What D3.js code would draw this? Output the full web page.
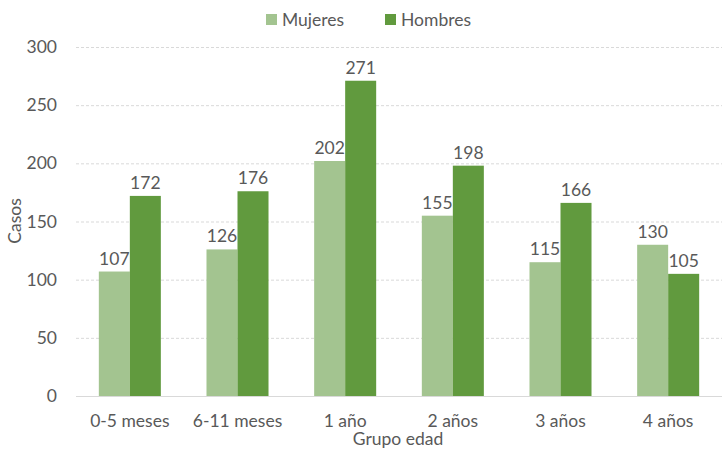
<!DOCTYPE html>
<html>
<head>
<meta charset="utf-8">
<script src="https://cdn.jsdelivr.net/npm/d3@7"></script>
<style>
  body { margin: 0; background: #fff; }
  text { font-family: Lato, "Open Sans", sans-serif; fill: #595959; }
</style>
</head>
<body>
<svg id="chart" width="722" height="450"></svg>
<script>
const groups = ["0-5 meses", "6-11 meses", "1 año", "2 años", "3 años", "4 años"];
const series = ["Mujeres", "Hombres"];
const mujeres = [107, 126, 202, 155, 115, 130];
const hombres = [172, 176, 271, 198, 166, 105];
const yTicks = [0, 50, 100, 150, 200, 250, 300];
const colors = ["#a3c490", "#619a3e"];

const svg = d3.select("#chart");
const margin = { left: 76, right: 0, top: 47, bottom: 54 };
const width = 722, height = 450;
const fs = "17.5px";

const x = d3.scaleBand()
    .domain(groups)
    .range([margin.left, width - margin.right])
    .paddingInner(0.424)
    .paddingOuter(0.212);

const xs = d3.scaleBand().domain(series).range([0, x.bandwidth()]);

const y = d3.scaleLinear().domain([0, 300]).range([height - margin.bottom, margin.top]);

// gridlines
svg.append("g")
    .selectAll("line")
    .data(yTicks.filter(d => d > 0))
    .enter()
    .append("line")
    .attr("x1", margin.left)
    .attr("x2", width)
    .attr("y1", d => y(d) + 0.5)
    .attr("y2", d => y(d) + 0.5)
    .attr("stroke", "#d9d9d9")
    .attr("stroke-dasharray", "3,2");

// y labels
svg.append("g")
    .selectAll("text")
    .data(yTicks)
    .enter()
    .append("text")
    .attr("x", 57)
    .attr("y", d => y(d))
    .attr("dy", "0.35em")
    .attr("text-anchor", "end")
    .style("font-size", fs)
    .text(d => d);

const data = groups.map((g, i) => ({ group: g, values: [mujeres[i], hombres[i]] }));

const gg = svg.append("g")
    .selectAll("g")
    .data(data)
    .enter()
    .append("g")
    .attr("transform", d => `translate(${x(d.group)},0)`);

gg.selectAll("rect")
    .data(d => d.values.map((v, j) => ({ key: series[j], v, j })))
    .enter()
    .append("rect")
    .attr("x", d => xs(d.key))
    .attr("width", xs.bandwidth())
    .attr("y", d => y(d.v))
    .attr("height", d => y(0) - y(d.v))
    .attr("fill", d => colors[d.j]);

gg.selectAll("text")
    .data(d => d.values.map((v, j) => ({ key: series[j], v, j })))
    .enter()
    .append("text")
    .attr("x", d => xs(d.key) + xs.bandwidth() / 2)
    .attr("y", d => y(d.v) - 7)
    .attr("text-anchor", "middle")
    .style("font-size", fs)
    .text(d => d.v);

// baseline
svg.append("line")
    .attr("x1", margin.left)
    .attr("x2", width)
    .attr("y1", y(0) + 0.5)
    .attr("y2", y(0) + 0.5)
    .attr("stroke", "#d9d9d9");

// x labels
svg.append("g")
    .selectAll("text")
    .data(groups)
    .enter()
    .append("text")
    .attr("x", d => x(d) + x.bandwidth() / 2)
    .attr("y", 427)
    .attr("text-anchor", "middle")
    .style("font-size", fs)
    .text(d => d);

svg.append("text")
    .attr("x", 398)
    .attr("y", 445)
    .attr("text-anchor", "middle")
    .style("font-size", fs)
    .text("Grupo edad");

svg.append("text")
    .attr("transform", "translate(21,221) rotate(-90)")
    .attr("text-anchor", "middle")
    .style("font-size", fs)
    .text("Casos");

// legend
const legend = svg.append("g")
    .selectAll("g")
    .data(series)
    .enter()
    .append("g")
    .attr("transform", (d, i) => `translate(${266 + i * 119},14)`);

legend.append("rect")
    .attr("width", 11)
    .attr("height", 11)
    .attr("fill", (d, i) => colors[i]);

legend.append("text")
    .attr("x", 16)
    .attr("y", 5.5)
    .attr("dy", "0.35em")
    .style("font-size", fs)
    .text(d => d);
</script>
</body>
</html>
